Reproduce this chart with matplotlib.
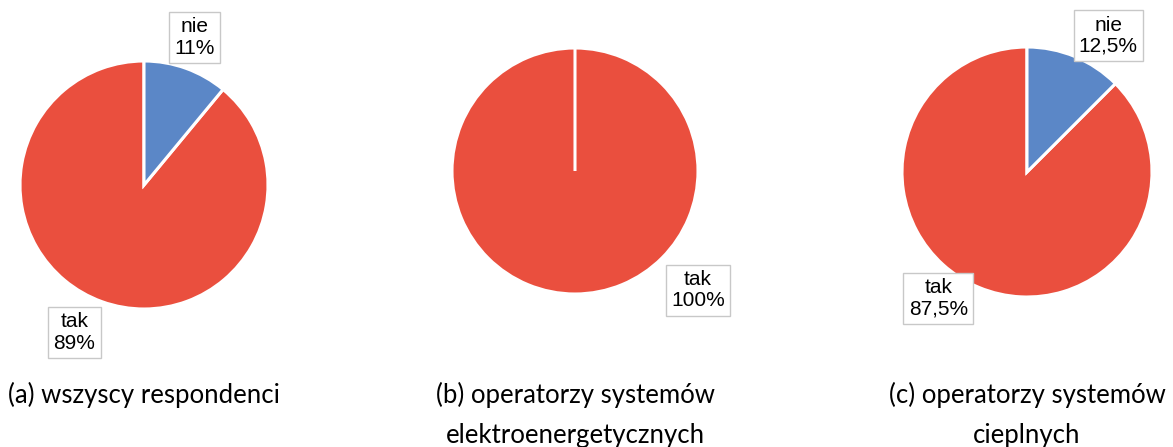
import matplotlib
matplotlib.use("Agg")
import matplotlib.pyplot as plt

W, H = 1173, 447

# dane
labels = ["nie", "tak"]
values_a = [11, 89]
values_b = [0, 100]
values_c = [12.5, 87.5]
pct_a = ["11%", "89%"]
pct_b = ["0%", "100%"]
pct_c = ["12,5%", "87,5%"]
captions = ["(a) wszyscy respondenci",
            "(b) operatorzy systemów\nelektroenergetycznych",
            "(c) operatorzy systemów\ncieplnych"]

colors = ["#5B87C7", "#EA4F3E"]

# srodek i promien kola w pikselach, pozycje etykiet (w promieniach)
pies = [
    (values_a, pct_a, (144, 185), 124, [(0.41, 1.19), (-0.56, -1.19)]),
    (values_b, pct_b, (575, 171), 123, [None, (1.0, -0.97)]),
    (values_c, pct_c, (1027, 172), 125, [(0.65, 1.09), (-0.71, -1.01)]),
]

fig = plt.figure(figsize=(W / 100, H / 100), dpi=100)
L = 1.6
for vals, pcts, (cx, cy), r, lpos in pies:
    half = L * r
    ax = fig.add_axes([(cx - half) / W, 1 - (cy + half) / H, 2 * half / W, 2 * half / H])
    wedges, _ = ax.pie(vals, colors=colors, startangle=90, counterclock=False,
                       wedgeprops=dict(edgecolor="white", linewidth=2.2))
    # pierwszy klin (nawet zerowy) rysujemy na wierzchu, zeby bylo widac biala krawedz
    wedges[0].set_zorder(3)
    ax.set_xlim(-L, L)
    ax.set_ylim(-L, L)
    ax.set_aspect("equal")
    ax.axis("off")
    for lab, p, pos in zip(labels, pcts, lpos):
        if pos is None:
            continue
        ax.text(pos[0], pos[1], lab + "\n" + p, ha="center", va="center",
                fontsize=15, family="Liberation Sans", linespacing=1.15,
                bbox=dict(boxstyle="square,pad=0.25", fc="white", ec="#C8C8C8", lw=1),
                zorder=5)

for (vals, pcts, (cx, cy), r, lpos), cap in zip(pies, captions):
    fig.text(cx / W, 1 - 382 / H, cap, ha="center", va="top", fontsize=18.5,
             family="Lato", linespacing=1.75)

fig.savefig("out.png", dpi=100, facecolor="white")
